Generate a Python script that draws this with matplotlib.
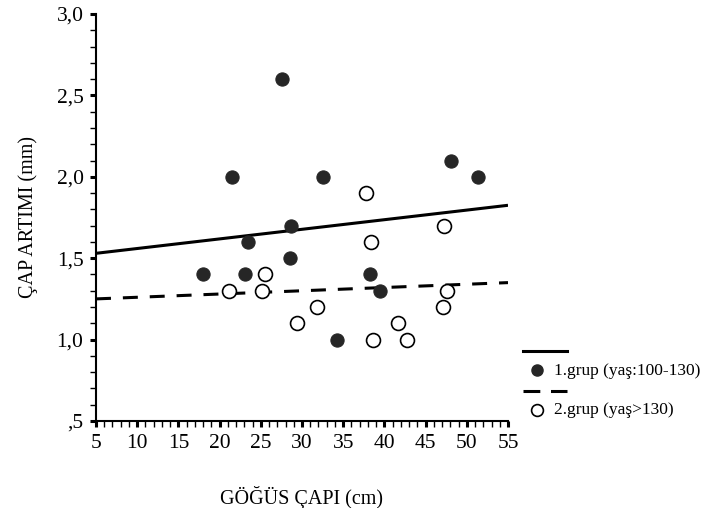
import numpy as np
import matplotlib
matplotlib.use("Agg")
import matplotlib.pyplot as plt
from matplotlib.ticker import MultipleLocator, FuncFormatter
from matplotlib.lines import Line2D

plt.rcParams['font.family'] = ['Liberation Serif', 'DejaVu Serif']

# group 1 (yaş:100-130)
g1_x = [18.0, 21.5, 23.1, 23.5, 27.6, 28.5, 28.7, 32.6, 34.3, 38.2, 39.5, 48.1, 51.3]
g1_y = [1.4, 2.0, 1.4, 1.6, 2.6, 1.5, 1.7, 2.0, 1.0, 1.4, 1.3, 2.1, 2.0]
# group 2 (yaş>130)
g2_x = [21.1, 25.1, 25.5, 29.4, 31.8, 37.8, 38.4, 38.6, 41.7, 42.7, 47.1, 47.2, 47.6]
g2_y = [1.3, 1.3, 1.4, 1.1, 1.2, 1.9, 1.6, 1.0, 1.1, 1.0, 1.2, 1.7, 1.3]

# fit lines
fit_x = [5, 55]
fit1_y = [1.53, 1.825]
fit2_y = [1.25, 1.35]

labels = ['1.grup (yaş:100-130)', '2.grup (yaş>130)']

W, H = 705, 508
fig = plt.figure(figsize=(W / 100, H / 100), dpi=100)
ax = fig.add_axes([96 / W, 1 - 421 / H, 412 / W, 407 / H])

ax.plot(fit_x, fit1_y, color='black', lw=2.2, solid_capstyle='butt')
ax.plot(fit_x, fit2_y, color='black', lw=2.2, dashes=(4.9, 3.9))
ax.plot(g1_x, g1_y, 'o', ms=9.5, mfc='#262626', mec='#262626', mew=0.8, clip_on=False)
ax.plot(g2_x, g2_y, 'o', ms=10, mfc='white', mec='black', mew=1.2, clip_on=False)

ax.set_xlim(5, 55)
ax.set_ylim(0.5, 3.0)
ax.xaxis.set_major_locator(MultipleLocator(5))
ax.xaxis.set_minor_locator(MultipleLocator(1))
ax.yaxis.set_major_locator(MultipleLocator(0.5))
ax.yaxis.set_minor_locator(MultipleLocator(0.1))

def yfmt(v, pos):
    s = '{:.1f}'.format(v).replace('.', ',')
    return s[1:] if s.startswith('0') else s

ax.yaxis.set_major_formatter(FuncFormatter(yfmt))
for side in ['top', 'right']:
    ax.spines[side].set_visible(False)
for side in ['left', 'bottom']:
    ax.spines[side].set_linewidth(1.5)
ax.tick_params(which='major', direction='out', length=4, width=2.2, labelsize=15.5, pad=5)
ax.tick_params(which='minor', direction='out', length=4, width=1.0)

ax.set_xlabel('GÖĞÜS ÇAPI (cm)', fontsize=14.5, labelpad=24)
ax.set_ylabel('ÇAP ARTIMI (mm)', fontsize=14.5, labelpad=13)

# legend drawn in figure pixels
def fx(px):
    return px / W

def fy(py):
    return 1 - py / H

fig.add_artist(Line2D([fx(523), fx(567)], [fy(351), fy(351)], color='black', lw=2.2,
                      transform=fig.transFigure))
fig.add_artist(Line2D([fx(537)], [fy(370)], ls='none', marker='o', ms=8, mfc='#262626',
                      mec='#262626', transform=fig.transFigure))
fig.add_artist(Line2D([fx(523), fx(567)], [fy(391), fy(391)], color='black', lw=2.2,
                      dashes=(5.5, 3.5), transform=fig.transFigure))
fig.add_artist(Line2D([fx(537)], [fy(410)], ls='none', marker='o', ms=8.5, mfc='white',
                      mec='black', mew=1.2, transform=fig.transFigure))
fig.text(fx(554), fy(371), labels[0], fontsize=12.5, va='center', ha='left')
fig.text(fx(554), fy(410), labels[1], fontsize=12.5, va='center', ha='left')

fig.savefig('out.png', dpi=100)
